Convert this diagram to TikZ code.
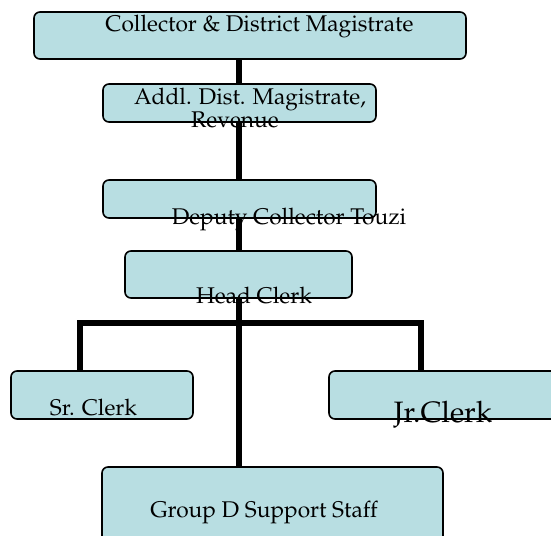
\documentclass[tikz,border=0pt]{standalone}
\usepackage[T1]{fontenc}
\usepackage{mathpazo}
\definecolor{boxfill}{RGB}{184,222,226}
\tikzset{
  orgbox/.style={draw=black, line width=1.6pt, fill=boxfill, rounded corners=6pt, inner sep=0pt},
  conn/.style={line width=5.5pt, black},
  lbl/.style={anchor=base, inner sep=0pt, font=\fontsize{22.7}{26}\selectfont},
  biglbl/.style={anchor=base, inner sep=0pt, font=\fontsize{29.5}{34}\selectfont}
}
\begin{document}
\begin{tikzpicture}[x=1pt,y=-1pt]
\useasboundingbox (0,0) rectangle (551,535);
\clip (0,0) rectangle (551,535);
% boxes
\node[orgbox, minimum width=432pt, minimum height=47pt] (cdm) at (250,35.5) {};
\node[orgbox, minimum width=273pt, minimum height=38pt] (adm) at (239.5,103) {};
\node[orgbox, minimum width=273pt, minimum height=38pt] (dct) at (239.5,199) {};
\node[orgbox, minimum width=227pt, minimum height=47pt] (hc) at (238.5,274.5) {};
\node[orgbox, minimum width=182pt, minimum height=48pt] (sr) at (102,395) {};
\node[orgbox, minimum width=240pt, minimum height=48pt] (jr) at (449,395) {};
\node[orgbox, minimum width=341pt, minimum height=90pt] (gd) at (272.5,512) {};
% connectors
\coordinate (bl) at (80,323);
\coordinate (br) at (421,323);
\coordinate (bm) at (239,323);
\draw[conn] (239,0 |- adm.north) -- (239,0 |- cdm.south);
\draw[conn] (239,0 |- adm.south) -- (239,0 |- dct.north);
\draw[conn] (239,0 |- dct.south) -- (239,0 |- hc.north);
\draw[conn] (239,0 |- hc.south) -- (bm);
\draw[conn] (bm) -- (bm |- gd.north);
\draw[conn, line cap=rect] (bl) -- (br);
\draw[conn] (bl) -- (bl |- sr.north);
\draw[conn] (br) -- (br |- jr.north);
% labels
\node[lbl] (tcdm) at (259.5,32) {Collector \& District Magistrate};
\node[lbl] (tadm1) at (250,104) {Addl. Dist. Magistrate,};
\node[lbl] (tadm2) at (235,127) {Revenue};
\node[lbl] (tdct) at (289,224) {Deputy Collector Touzi};
\node[lbl] (thc) at (254,303) {Head Clerk};
\node[lbl] (tsr) at (93.5,415) {Sr. Clerk};
\node[biglbl] (tjr) at (443,422) {Jr.Clerk};
\node[lbl] (tgd) at (264,517) {Group D Support Staff};
\end{tikzpicture}
\end{document}
